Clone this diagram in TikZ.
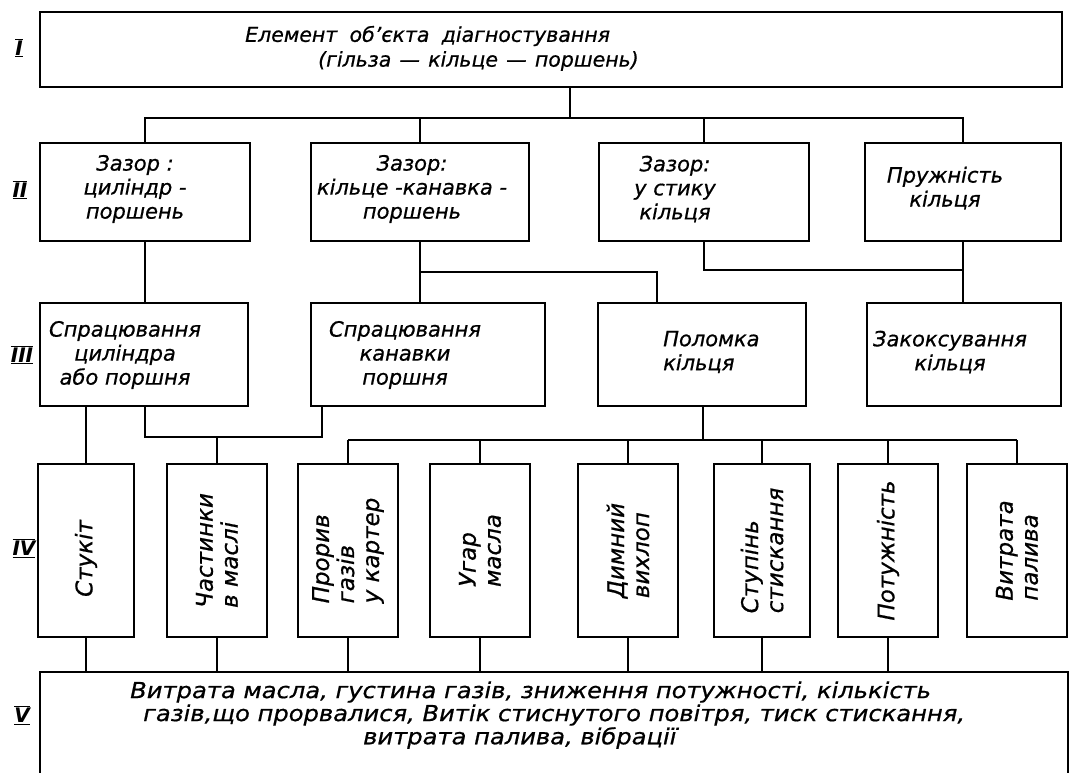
\documentclass[tikz,border=0pt]{standalone}
\usepackage{fontspec}
\setmainfont{DejaVu Sans}[ItalicFeatures={FakeBold=0.7}]
\newfontfamily\widefont{DejaVu Sans}[FakeStretch=1.1, ItalicFeatures={FakeBold=0.7}]
\begin{document}
\begin{tikzpicture}[x=1pt,y=-1pt,
  box/.style={draw, line width=2.3pt, inner sep=0pt, outer sep=0pt},
  conn/.style={line width=2.3pt},
  txt/.style={font=\fontsize{21}{24}\selectfont\itshape, inner sep=0pt, align=center},
  ltxt/.style={font=\fontsize{21}{24}\selectfont\itshape, inner sep=0pt, align=left},
  itxt/.style={font=\fontsize{20.5}{24}\selectfont\itshape, inner sep=0pt, align=left},
  vtxt/.style={font=\fontsize{23}{25}\selectfont\itshape, inner sep=0pt, align=left, rotate=90},
  wtxt/.style={font=\widefont\fontsize{22}{23}\selectfont\itshape, inner sep=0pt, align=left},
  lvl/.style={font=\fontsize{20}{22}\selectfont\bfseries\itshape, inner sep=0pt}
]
\useasboundingbox (0,0) rectangle (1076,772);
\fill[white] (0,0) rectangle (1076,772);

% level labels
\node[lvl] (LI)   at (19,48)  {$\overline{\underline{\hbox{I}}}$};
\node[lvl] (LII)  at (20,190) {$\overline{\underline{\hbox{II}}}$};
\node[lvl] (LIII) at (22,355) {$\overline{\underline{\hbox{III}}}$};
\node[lvl] (LIV)  at (24,548) {$\overline{\underline{\hbox{IV}}}$};
\node[lvl] (LV)   at (22,715) {$\overline{\underline{\hbox{V}}}$};

% level I
\node[box, minimum width=1022pt, minimum height=75pt] (I) at (551,49.5) {};
\node[itxt, anchor=west] (tIa) at (245,36) {Елемент\hspace{0.6em}об'єкта\hspace{0.6em}діагностування};
\node[itxt, anchor=west] (tIb) at (318,61) {(гільза\hspace{0.4em}—\hspace{0.4em}кільце\hspace{0.4em}—\hspace{0.4em}поршень)};

% level II
\node[box, minimum width=210pt, minimum height=98pt] (II1) at (145,192) {};
\node[box, minimum width=218pt, minimum height=98pt] (II2) at (420,192) {};
\node[box, minimum width=210pt, minimum height=98pt] (II3) at (704,192) {};
\node[box, minimum width=196pt, minimum height=98pt] (II4) at (963,192) {};
\node[txt] (tII1) at (135,189) {Зазор :\\циліндр -\\поршень};
\node[txt] (tII2) at (412,189) {Зазор:\\кільце -канавка -\\поршень};
\node[txt] (tII3) at (675,189) {Зазор:\\у стику\\кільця};
\node[txt] (tII4) at (945,188) {Пружність\\кільця};

% level III
\node[box, minimum width=208pt, minimum height=103pt] (III1) at (144,354.5) {};
\node[box, minimum width=234pt, minimum height=103pt] (III2) at (428,354.5) {};
\node[box, minimum width=208pt, minimum height=103pt] (III3) at (702,354.5) {};
\node[box, minimum width=194pt, minimum height=103pt] (III4) at (964,354.5) {};
\node[txt] (tIII1) at (125,355) {Спрацювання\\циліндра\\або поршня};
\node[txt] (tIII2) at (405,355) {Спрацювання\\канавки\\поршня};
\node[ltxt, anchor=west] (tIII3) at (663,352) {Поломка\\кільця};
\node[txt] (tIII4) at (950,352) {Закоксування\\кільця};

% level IV
\node[box, minimum width=96pt,  minimum height=173pt] (IV1) at (86,550.5) {};
\node[box, minimum width=100pt, minimum height=173pt] (IV2) at (217,550.5) {};
\node[box, minimum width=100pt, minimum height=173pt] (IV3) at (348,550.5) {};
\node[box, minimum width=100pt, minimum height=173pt] (IV4) at (480,550.5) {};
\node[box, minimum width=100pt, minimum height=173pt] (IV5) at (628,550.5) {};
\node[box, minimum width=96pt,  minimum height=173pt] (IV6) at (762,550.5) {};
\node[box, minimum width=100pt, minimum height=173pt] (IV7) at (888,550.5) {};
\node[box, minimum width=100pt, minimum height=173pt] (IV8) at (1017,550.5) {};
\node[vtxt] (tIV1) at ([yshift=-8pt]IV1.center) {Стукіт};
\node[vtxt] (tIV2) at (IV2) {Частинки\\в маслі};
\node[vtxt] (tIV3) at (IV3) {Прорив\\газів\\у картер};
\node[vtxt] (tIV4) at (IV4) {Угар\\масла};
\node[vtxt] (tIV5) at (IV5) {Димний\\вихлоп};
\node[vtxt] (tIV6) at (IV6) {Ступінь\\стискання};
\node[vtxt] (tIV7) at (IV7) {Потужність};
\node[vtxt] (tIV8) at (IV8) {Витрата\\палива};

% level V
\node[box, minimum width=1028pt, minimum height=128pt] (V) at (554,736) {};
\node[wtxt, anchor=west] (tVa) at (130,692) {Витрата\ масла, густина\ газів, зниження\ потужності, кількість};
\node[wtxt, anchor=west] (tVb) at (143,715) {газів,що прорвалися, Витік стиснутого повітря, тиск стискання,};
\node[wtxt, anchor=west] (tVc) at (363,738) {витрата палива, вібрації};

% connectors I -> II
\coordinate (j1) at (570,118);
\draw[conn] (I.south -| j1) -- (j1);
\draw[conn] (II1.north) -- (II1.north |- j1) -- (II4.north |- j1) -- (II4.north);
\draw[conn] (II2.north |- j1) -- (II2.north);
\draw[conn] (II3.north |- j1) -- (II3.north);

% connectors II -> III
\coordinate (k2) at (657,272);
\coordinate (k3) at (963,270);
\draw[conn] (II1.south) -- (II1.south |- III1.north);
\draw[conn] (II2.south) -- (II2.south |- III2.north);
\draw[conn] (II2.south |- k2) -- (k2) -- (k2 |- III3.north);
\draw[conn] (II3.south) |- (k3);
\draw[conn] (II4.south) -- (II4.south |- III4.north);

% connectors III -> IV
\coordinate (m1) at (145,437);
\coordinate (m2) at (322,437);
\coordinate (n1) at (703,440);
\draw[conn] (III1.south -| IV1.north) -- (IV1.north);
\draw[conn] (III1.south -| m1) -- (m1) -- (m2) -- (m2 |- III2.south);
\draw[conn] (IV2.north |- m1) -- (IV2.north);
\draw[conn] (III3.south -| n1) -- (n1);
\draw[conn] (IV3.north |- n1) -- (IV8.north |- n1);
\foreach \k in {IV3,IV4,IV5,IV6,IV7,IV8}
  \draw[conn] (\k.north |- n1) -- (\k.north);

% connectors IV -> V
\foreach \k in {IV1,IV2,IV3,IV4,IV5,IV6,IV7}
  \draw[conn] (\k.south) -- (\k.south |- V.north);
\end{tikzpicture}
\end{document}
